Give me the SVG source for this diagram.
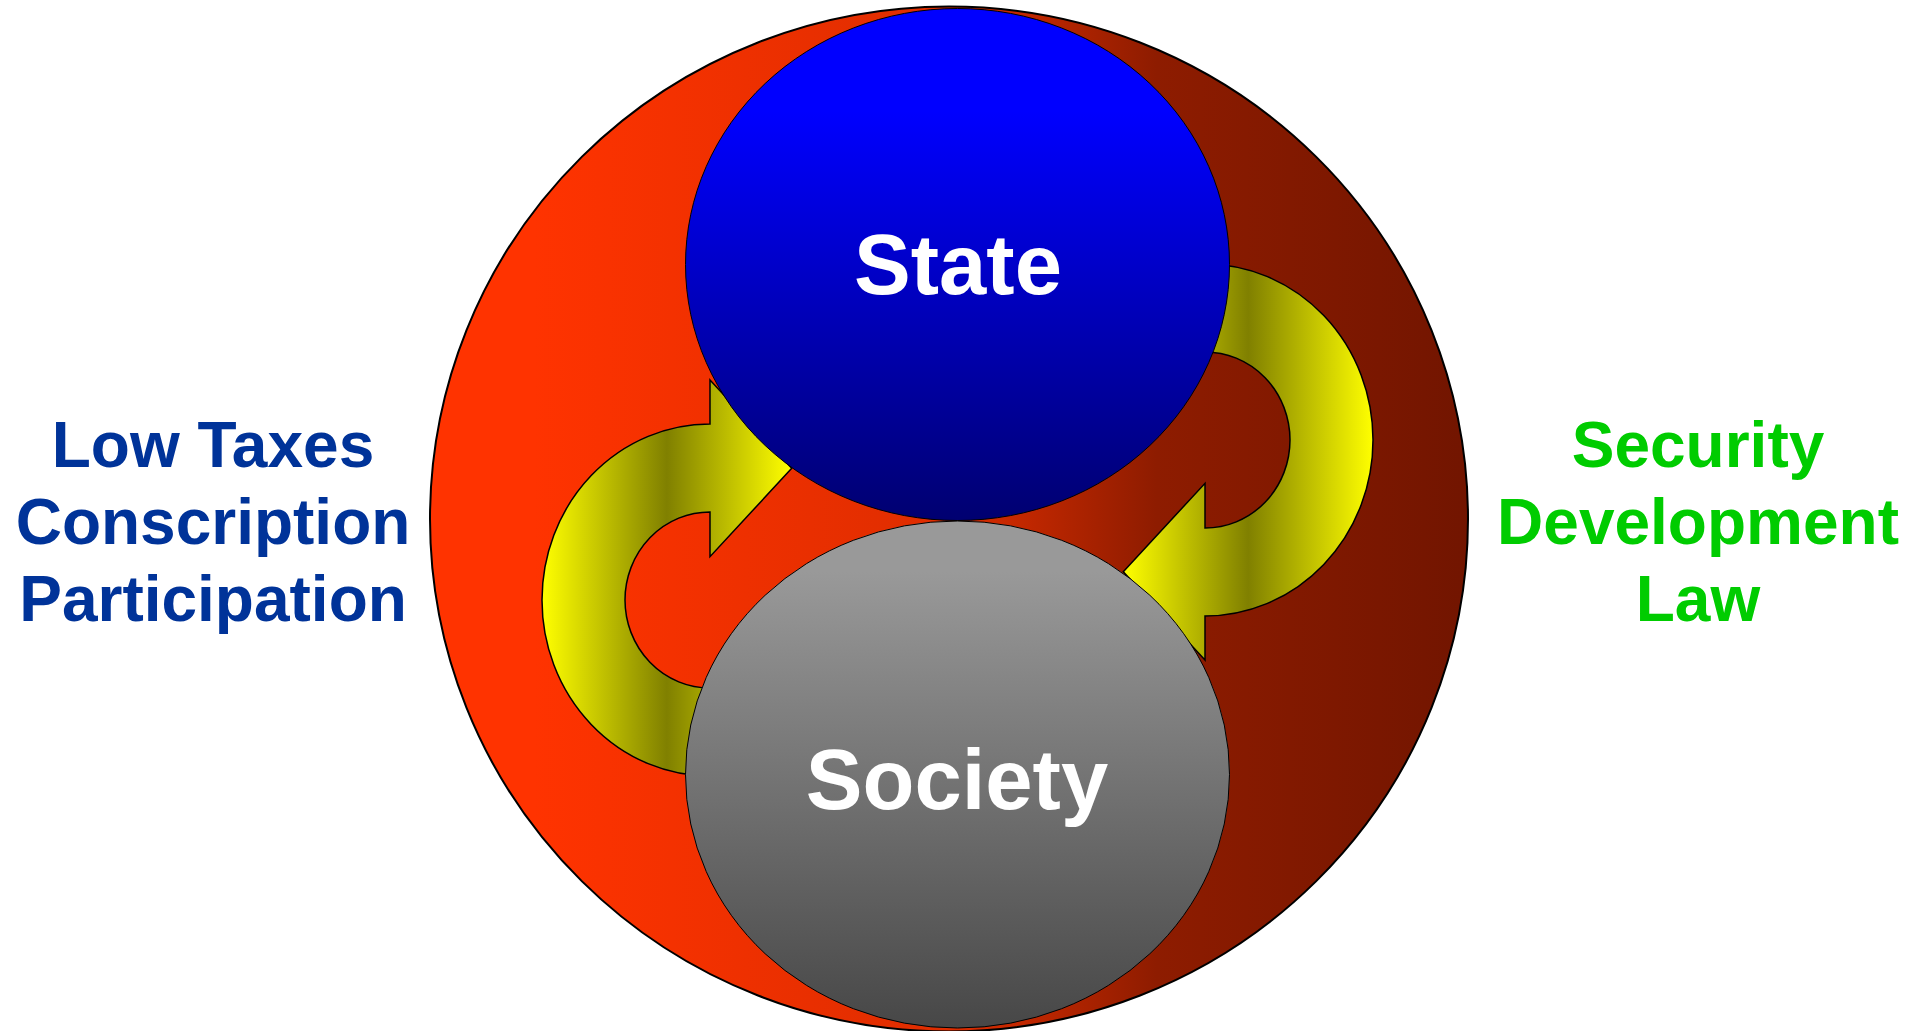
<svg xmlns="http://www.w3.org/2000/svg" width="1909" height="1031" viewBox="0 0 1909 1031">
  <defs>
    <linearGradient id="gOuter" x1="0" y1="0" x2="1" y2="0">
      <stop offset="0" stop-color="#FF3300"/>
      <stop offset="0.1" stop-color="#FF3300"/>
      <stop offset="0.5" stop-color="#DE2D00"/>
      <stop offset="0.62" stop-color="#AE2300"/>
      <stop offset="0.7" stop-color="#8E1C00"/>
      <stop offset="1" stop-color="#721500"/>
    </linearGradient>
    <linearGradient id="gArrow" x1="0" y1="0" x2="1" y2="0">
      <stop offset="0" stop-color="#FFFF00"/>
      <stop offset="0.5" stop-color="#808000"/>
      <stop offset="1" stop-color="#FFFF00"/>
    </linearGradient>
    <linearGradient id="gState" x1="0" y1="0" x2="0" y2="1">
      <stop offset="0" stop-color="#0000FF"/>
      <stop offset="0.2" stop-color="#0000FF"/>
      <stop offset="1" stop-color="#000070"/>
    </linearGradient>
    <linearGradient id="gSociety" x1="0" y1="0" x2="0" y2="1">
      <stop offset="0" stop-color="#999999"/>
      <stop offset="0.1" stop-color="#999999"/>
      <stop offset="1" stop-color="#474747"/>
    </linearGradient>
    <path id="arrowShape" d="M710,380 L791.7,468.3 L710,556.7 L710,512 A85,88 0 0 0 625,600 A85,88 0 0 0 710,688 L710,776 A168,176 0 0 1 542,600 A168,176 0 0 1 710,424 Z"/>
  </defs>
  <style>
    .lbl { font-family: "Liberation Sans", Arial, sans-serif; font-weight: bold; font-size: 64px; text-anchor: middle; }
    .node { font-family: "Liberation Sans", Arial, sans-serif; font-weight: bold; font-size: 85px; text-anchor: middle; fill: #FFFFFF; }
    .arrow { fill: url(#gArrow); stroke: #000000; stroke-width: 1.5; stroke-linejoin: miter; }
  </style>

  <g id="outer">
    <ellipse cx="949" cy="519" rx="519" ry="512.5" fill="url(#gOuter)" stroke="#000000" stroke-width="2"/>
  </g>

  <g id="connectors">
    <use href="#arrowShape" class="arrow"/>
    <use href="#arrowShape" class="arrow" transform="rotate(180 957.5 520)"/>
  </g>

  <g id="state">
    <ellipse cx="957.5" cy="264.5" rx="272" ry="256" fill="url(#gState)" stroke="#000000" stroke-width="1"/>
    <text class="node" x="958" y="294">State</text>
  </g>

  <g id="society">
    <ellipse cx="957.5" cy="774.5" rx="272" ry="253.5" fill="url(#gSociety)" stroke="#000000" stroke-width="1"/>
    <text class="node" x="957" y="809">Society</text>
  </g>

  <g id="left-labels">
    <text class="lbl" fill="#003399" x="213" y="467">Low Taxes</text>
    <text class="lbl" fill="#003399" x="213" y="544">Conscription</text>
    <text class="lbl" fill="#003399" x="213" y="621">Participation</text>
  </g>

  <g id="right-labels">
    <text class="lbl" fill="#00CC00" x="1698" y="467">Security</text>
    <text class="lbl" fill="#00CC00" x="1698" y="544">Development</text>
    <text class="lbl" fill="#00CC00" x="1698" y="621">Law</text>
  </g>
</svg>
